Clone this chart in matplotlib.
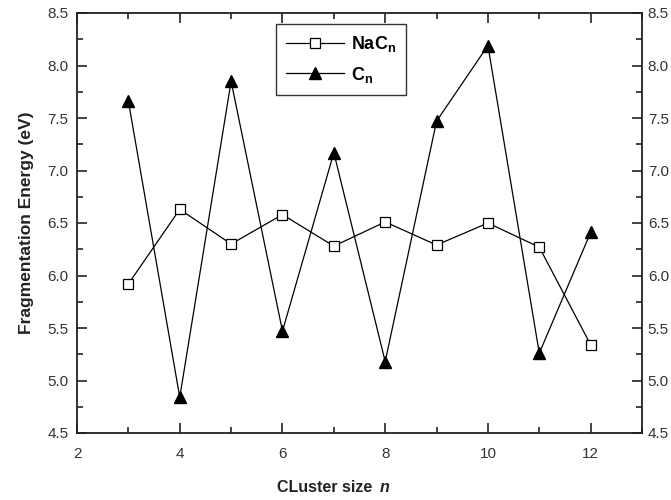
import matplotlib.pyplot as plt
from matplotlib.ticker import MultipleLocator

plt.rcParams['font.family'] = ['Liberation Sans', 'DejaVu Sans']

cluster_size = [3, 4, 5, 6, 7, 8, 9, 10, 11, 12]
nac_energy = [5.92, 6.63, 6.30, 6.58, 6.28, 6.51, 6.29, 6.50, 6.27, 5.34]
c_energy = [7.66, 4.84, 7.85, 5.47, 7.17, 5.18, 7.47, 8.19, 5.26, 6.41]

fig = plt.figure(figsize=(6.71, 5.0), dpi=100)
ax = fig.add_axes([0.1148, 0.134, 0.842, 0.84])

ax.plot(cluster_size, nac_energy, color='black', lw=0.9, marker='s', ms=6.5,
        mfc='white', mec='black', mew=0.9, label='NaC$_{\\mathregular{n}}$')
ax.plot(cluster_size, c_energy, color='black', lw=0.9, marker='^', ms=8,
        mfc='black', mec='black', label='C$_{\\mathregular{n}}$')

ax.set_xlim(2, 13)
ax.set_ylim(4.5, 8.5)
ax.xaxis.set_major_locator(MultipleLocator(2))
ax.xaxis.set_minor_locator(MultipleLocator(1))
ax.yaxis.set_major_locator(MultipleLocator(0.5))
ax.yaxis.set_minor_locator(MultipleLocator(0.25))
ax.yaxis.set_major_formatter(plt.FormatStrFormatter('%.1f'))

ax.tick_params(which='both', direction='in', top=True, right=True,
               labelright=True, width=1.2, labelsize=11, colors='#222222',
               labelcolor='#333333')
ax.tick_params(which='major', length=7)
ax.tick_params(which='minor', length=4)
ax.tick_params(axis='x', which='major', pad=10)
ax.tick_params(axis='y', which='major', pad=6)
# right-hand labels sit closer to the spine
for t in ax.yaxis.get_major_ticks():
    t.label2.set_x(0.9955)
for s in ax.spines.values():
    s.set_linewidth(1.3)
    s.set_color('#222222')

ax.set_ylabel('Fragmentation Energy (eV)', fontsize=12.5, fontweight='bold',
              color='#222222', labelpad=10)
fig.text(0.413, 0.026, 'CLuster size', ha='left', va='center',
         fontsize=11.5, fontweight='bold', color='#222222')
fig.text(0.566, 0.026, 'n', ha='left', va='center', fontsize=11.5,
         fontweight='bold', fontstyle='italic', color='#222222')

leg = ax.legend(loc='upper left', bbox_to_anchor=(0.352, 0.974), frameon=True,
                fancybox=False, edgecolor='black', handlelength=3.2,
                borderpad=0.55, labelspacing=0.6, borderaxespad=0,
                handletextpad=0.4, prop={'weight': 'bold', 'size': 13})
leg.get_frame().set_linewidth(1.0)

fig.savefig('out.png', dpi=100)
